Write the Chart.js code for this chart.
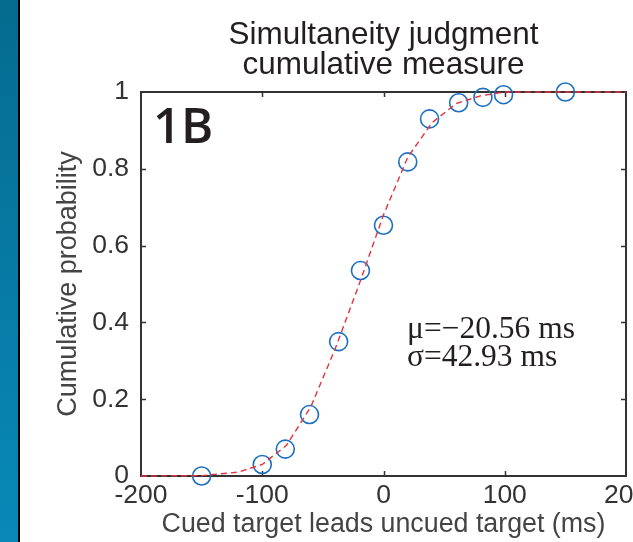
<!DOCTYPE html>
<html>
<head>
<meta charset="utf-8">
<script src="https://cdn.jsdelivr.net/npm/chart.js@4/dist/chart.umd.min.js"></script>
<style>
  html, body { margin: 0; padding: 0; background: #fff; overflow: hidden; width: 633px; height: 542px; }
  #strip { position: absolute; left: 0; top: 0; width: 18px; height: 542px;
           background: linear-gradient(to bottom, #056b8f, #0889b8); border-right: 2px solid #000; }
  #wrap { position: absolute; left: 0; top: 0; width: 700px; height: 542px; }
</style>
</head>
<body>
<div id="strip"></div>
<div id="wrap"><canvas id="c" width="700" height="542"></canvas></div>
<script>
// Fitted cumulative curve (red dashed)
const fitX = [-200, -150, -120, -100, -80, -60, -40, -20, 0, 20, 40, 60, 80, 100, 150, 200];
const fitY = [0, 0.001, 0.01, 0.03, 0.08, 0.18, 0.33, 0.5, 0.68, 0.83, 0.92, 0.97, 0.99, 1, 1, 1];
// Observed proportions (blue circles)
const obsX = [-150, -100, -81, -61, -37, -19, 0, 20, 38, 62, 82, 99, 150];
const obsY = [0, 0.03, 0.07, 0.16, 0.35, 0.535, 0.653, 0.818, 0.93, 0.972, 0.986, 0.993, 1];
const xTicks = [-200, -100, 0, 100, 200];
const yTicks = [0, 0.2, 0.4, 0.6, 0.8, 1];
const titleLines = ['Simultaneity judgment', 'cumulative measure'];
const xTitle = 'Cued target leads uncued target (ms)';
const yTitle = 'Cumulative probability';
const panelLabel = '1B';
const statLines = ['\u03BC=\u221220.56 ms', '\u03C3=42.93 ms'];

const frame = {
  id: 'frame',
  beforeDatasetsDraw(chart) {
    const { ctx, chartArea: a, scales: { x, y } } = chart;
    ctx.save();
    ctx.strokeStyle = '#333';
    ctx.lineWidth = 2;
    ctx.strokeRect(a.left, a.top, a.right - a.left, a.bottom - a.top);
    ctx.lineWidth = 1.5;
    ctx.beginPath();
    xTicks.forEach(v => {
      if (v === x.min || v === x.max) return;
      const px = Math.round(x.getPixelForValue(v)) + 0.5;
      ctx.moveTo(px, a.bottom); ctx.lineTo(px, a.bottom - 5);
      ctx.moveTo(px, a.top); ctx.lineTo(px, a.top + 5);
    });
    yTicks.forEach(v => {
      if (v === y.min || v === y.max) return;
      const py = Math.round(y.getPixelForValue(v)) + 0.5;
      ctx.moveTo(a.left, py); ctx.lineTo(a.left + 5, py);
      ctx.moveTo(a.right, py); ctx.lineTo(a.right - 5, py);
    });
    ctx.stroke();
    ctx.restore();
  },
  afterDraw(chart) {
    const { ctx } = chart;
    ctx.save();
    ctx.fillStyle = '#231f20';
    ctx.textAlign = 'left';
    ctx.textBaseline = 'alphabetic';
    ctx.font = '600 49px "Open Sans"';
    ctx.fillText(panelLabel, 153, 143);
    ctx.font = '31.5px "Liberation Serif"';
    ctx.fillText(statLines[0], 407, 338);
    ctx.fillText(statLines[1], 407, 366);
    ctx.restore();
  }
};

const sans = '"Liberation Sans", Arial, sans-serif';

new Chart(document.getElementById('c'), {
  type: 'scatter',
  data: {
    datasets: [
      {
        label: 'fit',
        data: fitX.map((v, i) => ({ x: v, y: fitY[i] })),
        showLine: true,
        borderColor: '#e2323f',
        borderWidth: 1.4,
        borderDash: [6, 4],
        pointRadius: 0,
        tension: 0,
        clip: false
      },
      {
        label: 'data',
        data: obsX.map((v, i) => ({ x: v, y: obsY[i] })),
        showLine: false,
        pointRadius: 9,
        pointHoverRadius: 9,
        pointBorderWidth: 1.6,
        pointBorderColor: '#1b70c0',
        pointBackgroundColor: 'rgba(0,0,0,0)',
        clip: false
      }
    ]
  },
  options: {
    responsive: false,
    animation: false,
    events: [],
    layout: { padding: { left: 20, right: 74, top: 0, bottom: 0 } },
    plugins: {
      legend: { display: false },
      tooltip: { enabled: false },
      title: {
        display: true,
        fullSize: false,
        text: titleLines,
        color: '#231f20',
        font: { family: sans, size: 31.5, weight: 'normal', lineHeight: '30px' },
        padding: { top: 20, bottom: 12 }
      }
    },
    scales: {
      x: {
        type: 'linear',
        min: -200, max: 200,
        afterBuildTicks: s => { s.ticks = xTicks.map(v => ({ value: v })); },
        afterFit: s => { s.height = 66; },
        grid: { display: false, drawTicks: false },
        border: { display: false },
        ticks: { color: '#333', padding: 4, callback: v => String(v), font: { family: sans, size: 26.5, lineHeight: 1.15 }, maxRotation: 0, autoSkip: false },
        title: { display: true, text: xTitle, color: '#444', padding: { top: 0, bottom: 2 },
                 font: { family: sans, size: 26.8, lineHeight: 1.15 } }
      },
      y: {
        type: 'linear',
        min: 0, max: 1,
        afterBuildTicks: s => { s.ticks = yTicks.map(v => ({ value: v })); },
        afterFit: s => { s.width = 121; },
        grid: { display: false, drawTicks: false },
        border: { display: false },
        ticks: { color: '#333', padding: 12, callback: v => String(v), font: { family: sans, size: 26.5, lineHeight: 1.15 } },
        title: { display: true, text: yTitle, color: '#444', padding: { top: 33, bottom: 0 },
                 font: { family: sans, size: 27, lineHeight: 1.15 } }
      }
    }
  },
  plugins: [frame]
});
</script>
</body>
</html>
